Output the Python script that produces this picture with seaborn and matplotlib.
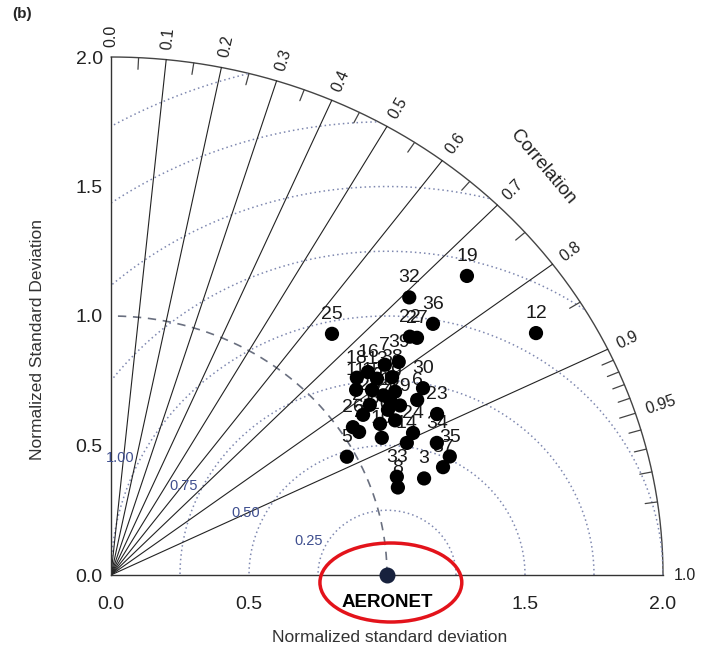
import numpy as np
import pandas as pd
import matplotlib
matplotlib.use('Agg')
import matplotlib.pyplot as plt
from matplotlib.patches import Ellipse
import seaborn as sns

# model id, normalized std and correlation vs AERONET
labels = [1, 2, 3, 4, 5, 6, 7, 8, 9, 10,
          11, 12, 13, 14, 15, 16, 17, 18, 19, 20,
          21, 22, 23, 24, 25, 26, 27, 28, 29, 30,
          31, 32, 33, 34, 35, 36, 37, 38, 39]
norm_std = [1.190, 1.055, 1.194, 1.189, 0.969, 1.299, 1.282, 1.093, 1.249, 1.115,
            1.140, 1.801, 1.226, 1.187, 1.185, 1.217, 1.216, 1.172, 1.731, 1.136,
            1.103, 1.421, 1.335, 1.224, 1.228, 1.046, 1.438, 1.145, 1.235, 1.341,
            1.206, 1.522, 1.103, 1.286, 1.310, 1.517, 1.273, 1.273, 1.328]
corr = [0.865, 0.852, 0.950, 0.844, 0.882, 0.854, 0.774, 0.951, 0.824, 0.880,
        0.779, 0.855, 0.786, 0.903, 0.798, 0.765, 0.831, 0.760, 0.745, 0.858,
        0.828, 0.762, 0.885, 0.894, 0.652, 0.838, 0.771, 0.819, 0.848, 0.843,
        0.818, 0.710, 0.939, 0.918, 0.937, 0.769, 0.945, 0.800, 0.785]

corr_lines = [0.1, 0.2, 0.3, 0.4, 0.5, 0.6, 0.7, 0.8, 0.9]
corr_ticklabels = ['0.0', '0.1', '0.2', '0.3', '0.4', '0.5', '0.6', '0.7', '0.8', '0.9', '0.95', '1.0']
rms_levels = [0.25, 0.5, 0.75, 1.0, 1.25, 1.5, 1.75, 2.0]
rms_labels = ['0.25', '0.50', '0.75', '1.00']

sns.set_style('white')
plt.rcParams['font.family'] = ['Liberation Sans', 'DejaVu Sans']

df = pd.DataFrame({'label': labels, 'std': norm_std, 'corr': corr})
df['x'] = df['std'] * df['corr']
df['y'] = df['std'] * np.sqrt(1 - df['corr'] ** 2)

fig = plt.figure(figsize=(7.11, 6.51), dpi=100)
ax = fig.add_axes([111 / 711, 76 / 651, 552 / 711, 518 / 651])
ax.set_xlim(0, 2)
ax.set_ylim(0, 2)
for s in ['top', 'right']:
    ax.spines[s].set_visible(False)
for s in ['left', 'bottom']:
    ax.spines[s].set_linewidth(1.0)
    ax.spines[s].set_color('#333333')

th = np.linspace(0, np.pi / 2, 300)
# outer arc
ax.plot(2 * np.cos(th), 2 * np.sin(th), color='#444444', lw=1.0, clip_on=False)
# reference std arc
ax.plot(np.cos(th), np.sin(th), color='#6a7080', lw=1.2, ls=(0, (5, 4)))

# RMS circles around the reference
phi = np.linspace(0, np.pi, 500)
for r in rms_levels:
    cx = 1 + r * np.cos(phi)
    cy = r * np.sin(phi)
    ok = (cx ** 2 + cy ** 2 <= 4.0) & (cx >= 0)
    cx = np.where(ok, cx, np.nan)
    cy = np.where(ok, cy, np.nan)
    ax.plot(cx, cy, color='#7f88b0', lw=1.1, ls=(0, (1, 2)))
ang = np.deg2rad(155)
for r, t in zip(rms_levels[:4], rms_labels):
    ax.text(1 + (r + 0.065) * np.cos(ang), (r + 0.065) * np.sin(ang), t,
            color='#3f4f8f', fontsize=10.5, ha='center', va='center', zorder=3)

# correlation rays
for c in corr_lines:
    ax.plot([0, 2 * c], [0, 2 * np.sqrt(1 - c ** 2)], color='#222222', lw=0.8)

# ticks on the outer arc
minor_c = list(np.arange(0.05, 0.9, 0.1)) + [0.91, 0.92, 0.93, 0.94, 0.95, 0.96, 0.97, 0.98, 0.99]
for c in minor_c:
    a = np.arccos(c)
    r0 = 1.955 if abs(c - 0.95) > 1e-6 else 1.94
    ax.plot([r0 * np.cos(a), 2 * np.cos(a)], [r0 * np.sin(a), 2 * np.sin(a)],
            color='#444444', lw=0.9, clip_on=False)
for t in corr_ticklabels:
    c = float(t)
    a = np.arccos(c)
    ax.text(2.04 * np.cos(a), 2.04 * np.sin(a), t, rotation=np.rad2deg(a),
            rotation_mode='anchor', ha='left', va='center', fontsize=11.5,
            color='#222222', clip_on=False)
ax.text(1.565, 1.575, 'Correlation', rotation=-50, ha='center', va='center',
        fontsize=13.5, color='#222222')

# model points and their numbers (numbers sit under the dots)
sns.scatterplot(data=df, x='x', y='y', color='black', s=105, edgecolor='none',
                zorder=5, ax=ax, legend=False)
for lab, x, y in zip(df['label'], df['x'], df['y']):
    ax.annotate(str(int(lab)), (x, y), xytext=(0, 14),
                textcoords='offset points', ha='center', va='center',
                fontsize=14, color='#1a1a1a', zorder=4)

# reference point
ax.scatter([1.0], [0.0], s=110, color='#17213d', zorder=6, clip_on=False)
ax.text(1.0, -0.108, 'AERONET', ha='center', va='center', fontsize=13.5,
        fontweight='bold', color='black', clip_on=False)
ax.add_patch(Ellipse((1.014, -0.029), 0.514, 0.305, fill=False, ec='#e3131b',
                     lw=2.5, clip_on=False, zorder=7))

ax.set_xticks([0, 0.5, 1.0, 1.5, 2.0])
ax.set_yticks([0, 0.5, 1.0, 1.5, 2.0])
ax.set_xticks(np.arange(0, 2.01, 0.1), minor=True)
ax.set_yticks(np.arange(0, 2.01, 0.1), minor=True)
ax.set_xticklabels(['0.0', '0.5', '', '1.5', '2.0'])
ax.set_yticklabels(['0.0', '0.5', '1.0', '1.5', '2.0'])
ax.tick_params(axis='both', which='major', direction='in', length=8, width=0.9,
               labelsize=14, colors='#333333', labelcolor='#222222')
ax.tick_params(axis='both', which='minor', direction='in', length=5, width=0.9,
               colors='#333333')
ax.tick_params(axis='x', which='major', pad=15)
ax.tick_params(axis='y', which='major', pad=6)
ax.set_xlabel('')
ax.set_ylabel('')

fig.text(390 / 711, 1 - 637 / 651, 'Normalized standard deviation', ha='center',
         va='center', fontsize=12.5, color='#333333')
fig.text(38 / 711, 1 - 340 / 651, 'Normalized Standard Deviation', ha='center',
         va='center', rotation=90, fontsize=12.5, color='#333333')
fig.text(22 / 711, 1 - 14 / 651, '(b)', ha='center', va='center', fontsize=11,
         fontweight='bold')

fig.savefig('out.png', dpi=100)
